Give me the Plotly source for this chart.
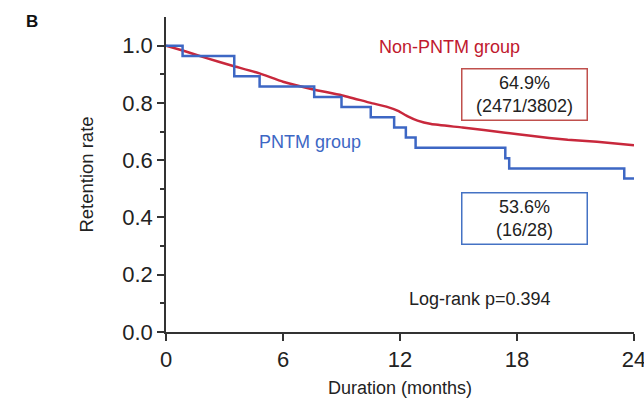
import plotly.graph_objects as go

# PNTM group (Kaplan-Meier step curve)
pntm_t = [0, 0.85, 3.5, 4.8, 7.6, 9.0, 10.5, 11.7, 12.3, 12.8, 17.4, 17.6, 23.5, 24]
pntm_s = [1.0, 0.964, 0.893, 0.857, 0.821, 0.786, 0.750, 0.714, 0.679, 0.643, 0.607, 0.571, 0.536, 0.536]

# Non-PNTM group
non_t = [0, 0.9, 2.0, 3.4, 4.8, 6.0, 7.5, 9.0, 10.5, 11.3, 11.9, 12.4, 12.9, 13.6, 15.2, 17.4, 18.7, 20.6, 22.1, 24]
non_s = [1.0, 0.982, 0.958, 0.930, 0.903, 0.874, 0.848, 0.827, 0.800, 0.787, 0.772, 0.753, 0.738, 0.726, 0.714, 0.696, 0.685, 0.671, 0.664, 0.652]

x_ticks = [0, 6, 12, 18, 24]
y_ticks = [0.0, 0.2, 0.4, 0.6, 0.8, 1.0]
y_tick_labels = ["0.0", "0.2", "0.4", "0.6", "0.8", "1.0"]

RED = "#C8283C"
BLUE = "#3D67C4"
FONT = "Arial, Liberation Sans, sans-serif"
TXT = "#222222"

fig = go.Figure()
fig.add_trace(go.Scatter(x=non_t, y=non_s, mode="lines",
                         line=dict(color=RED, width=2.5, shape="spline", smoothing=0.4),
                         showlegend=False))
fig.add_trace(go.Scatter(x=pntm_t, y=pntm_s, mode="lines", line=dict(color=BLUE, width=2.5, shape="hv"),
                         showlegend=False))

fig.update_layout(
    width=644, height=401,
    margin=dict(l=166, r=10, t=17, b=69),
    paper_bgcolor="white", plot_bgcolor="white",
    font=dict(family=FONT, color=TXT),
    xaxis=dict(range=[0, 24], tickvals=x_ticks, ticks="outside", ticklen=7, tickwidth=1.5,
               tickcolor="#333333", showline=True, linecolor="#333333", linewidth=1.5,
               showgrid=False, zeroline=False, tickfont=dict(size=22, color=TXT),
               ticklabeloverflow="allow", automargin=False,
               title=dict(text="Duration (months)", font=dict(size=18, color=TXT), standoff=10)),
    yaxis=dict(range=[0, 1.1], tickvals=y_ticks, ticktext=y_tick_labels, ticks="outside", ticklen=7,
               tickwidth=1.5, tickcolor="#333333", showline=True, linecolor="#333333", linewidth=1.5,
               showgrid=False, zeroline=False, tickfont=dict(size=22, color=TXT), automargin=False,
               minor=dict(tickvals=[0.1, 0.3, 0.5, 0.7, 0.9], ticks="outside", ticklen=4,
                          tickwidth=1.5, tickcolor="#333333"),
               title=dict(text="Retention rate", font=dict(size=18.5, color=TXT), standoff=24)),
)

fig.add_annotation(x=14.55, y=0.995, xref="x", yref="y", text="Non-PNTM group", showarrow=False,
                   font=dict(size=18, color="#C0182E"), xanchor="center", yanchor="middle")
fig.add_annotation(x=7.38, y=0.663, xref="x", yref="y", text="PNTM group", showarrow=False,
                   font=dict(size=18, color=BLUE), xanchor="center", yanchor="middle")
fig.add_annotation(x=18.36, y=0.831, xref="x", yref="y", text="64.9%<br>(2471/3802)", showarrow=False,
                   font=dict(size=18, color=TXT), width=122, height=48, borderpad=1,
                   bordercolor="#C0504D", borderwidth=1.5, bgcolor="white", align="center")
fig.add_annotation(x=18.36, y=0.398, xref="x", yref="y", text="53.6%<br>(16/28)", showarrow=False,
                   font=dict(size=18, color=TXT), width=122, height=48, borderpad=1,
                   bordercolor="#4472C4", borderwidth=1.5, bgcolor="white", align="center")
fig.add_annotation(x=16.08, y=0.115, xref="x", yref="y", text="Log-rank p=0.394", showarrow=False,
                   font=dict(size=18, color=TXT), xanchor="center", yanchor="middle")
fig.add_annotation(x=-0.303, y=0.987, xref="paper", yref="paper", text="<b>B</b>", showarrow=False,
                   font=dict(size=17, color="#111111"), xanchor="left", yanchor="middle")

fig.write_html("out.html")
